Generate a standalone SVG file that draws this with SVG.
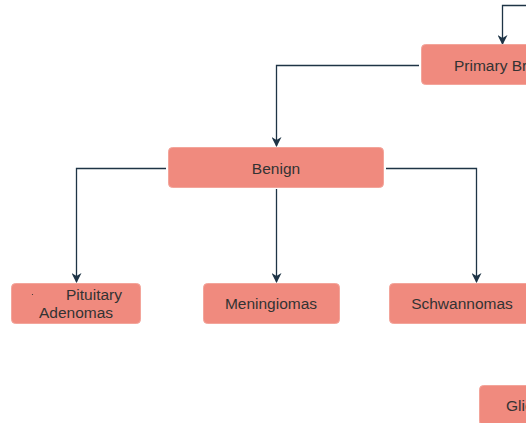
<svg xmlns="http://www.w3.org/2000/svg" width="526" height="423" viewBox="0 0 526 423">
<style>
.box{fill:#F08A7E;stroke:#F3A59B;stroke-width:1}
.t{font-family:"Liberation Sans",Arial,sans-serif;font-size:15.5px;fill:#333333;text-anchor:middle}
.c{fill:none;stroke:#1E3446;stroke-width:1.3}
</style>
<defs>
<marker id="ah" viewBox="0 0 10 10" refX="9" refY="5" markerWidth="10" markerHeight="10" markerUnits="userSpaceOnUse" orient="auto">
<path d="M0,0 L10,5 L0,10 L3,5 Z" fill="#1E3446"/>
</marker>
</defs>
<rect width="526" height="423" fill="#ffffff"/>
<g id="connectors">
<path class="c" d="M530,5.5 H502.5 V44" marker-end="url(#ah)"/>
<path class="c" d="M419,65.5 H276.5 V146" marker-end="url(#ah)"/>
<path class="c" d="M166,168.5 H76.5 V282" marker-end="url(#ah)"/>
<path class="c" d="M276.5,189 V282" marker-end="url(#ah)"/>
<path class="c" d="M386,168.5 H476.5 V282" marker-end="url(#ah)"/>
</g>
<g id="primary">
<rect class="box" x="421.5" y="44.5" width="140" height="40" rx="4"/>
<text class="t" x="454" y="70.5" style="text-anchor:start">Primary Brain Tumors</text>
</g>
<g id="benign">
<rect class="box" x="168.5" y="147.5" width="215" height="40" rx="4"/>
<text class="t" x="276" y="173.5">Benign</text>
</g>
<g id="pituitary">
<rect class="box" x="11.5" y="283.5" width="129" height="40" rx="4"/>
<circle cx="32.5" cy="294.5" r="0.6" fill="#333333"/>
<text class="t" x="94" y="299.5">Pituitary</text>
<text class="t" x="76" y="318">Adenomas</text>
</g>
<g id="meningiomas">
<rect class="box" x="203.5" y="283.5" width="136" height="40" rx="4"/>
<text class="t" x="271" y="308.5">Meningiomas</text>
</g>
<g id="schwannomas">
<rect class="box" x="389.5" y="283.5" width="146" height="40" rx="4"/>
<text class="t" x="462" y="308.5">Schwannomas</text>
</g>
<g id="gliomas">
<rect class="box" x="479.5" y="385.5" width="100" height="40" rx="4"/>
<text class="t" x="506" y="410.5" style="text-anchor:start">Gliomas</text>
</g>
</svg>
